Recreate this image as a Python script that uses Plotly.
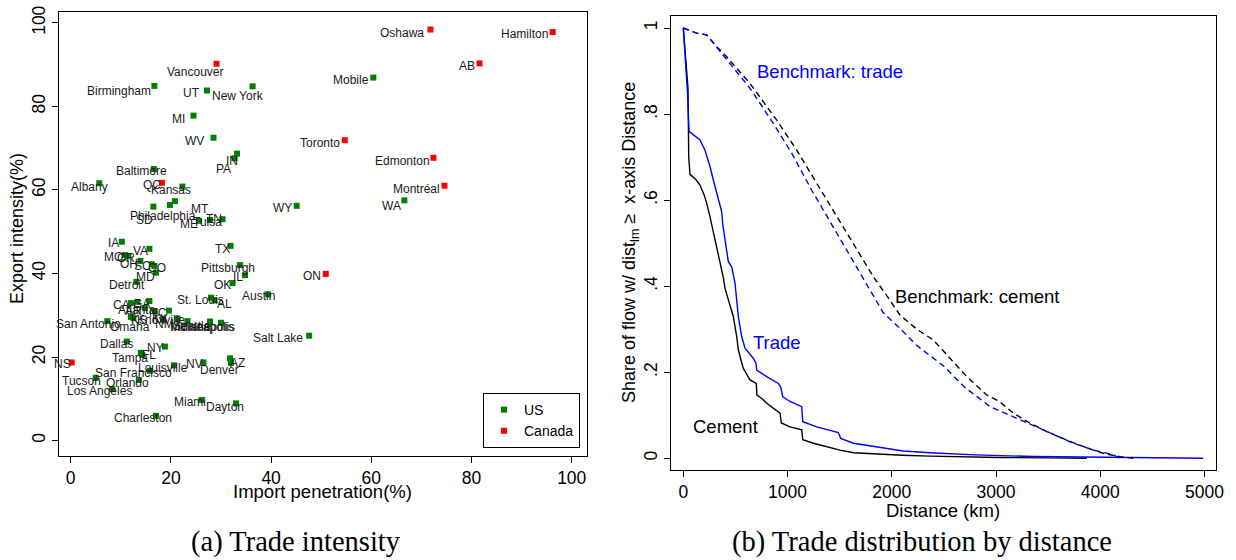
import plotly.graph_objects as go

# ---- Panel (a): trade intensity, US and Canadian markets ----
us_names = ["Birmingham", "UT", "New York", "Mobile", "MI", "WV", "IN", "PA", "Baltimore",
            "Albany", "Kansas", "WA", "WY", "MT", "Philadelphia", "SD", "ME", "Tulsa", "TN",
            "IA", "VA", "TX", "MO", "OR", "OH", "SC", "CO", "MD", "Pittsburgh", "IL", "Detroit",
            "OK", "Austin", "St. Louis", "AL", "GA", "AR", "CA", "Atlanta", "NC", "KY", "Omaha",
            "KS", "NM", "Knoxville", "Seattle", "San Antonio", "Indianapolis", "Minneapolis",
            "Salt Lake", "Dallas", "NY", "FL", "Tampa", "AZ", "Denver", "NV", "Louisville",
            "San Francisco", "Tucson", "Orlando", "Los Angeles", "Miami", "Dayton", "Charleston"]
us_import = [16.7, 27.2, 36.3, 60.4, 24.5, 28.5, 33.2, 32.7, 16.6,
             5.7, 22.3, 66.6, 45.1, 20.8, 19.8, 16.5, 25.6, 27.8, 30.3,
             10.2, 15.7, 31.9, 10.8, 11.5, 13.9, 16.2, 16.7, 17.0, 33.8, 34.8, 13.1,
             32.3, 39.4, 28.0, 28.7, 15.7, 13.3, 12.0, 14.8, 16.8, 19.6, 12.0,
             12.5, 18.4, 21.3, 23.3, 7.3, 27.8, 30.0,
             47.6, 11.2, 18.8, 14.0, 14.3, 31.8, 32.0, 26.5, 20.6,
             15.8, 5.0, 13.6, 8.3, 26.1, 33.0, 17.0]
us_export = [84.9, 83.8, 84.8, 86.9, 77.8, 72.5, 68.7, 67.6, 65.0,
             61.6, 60.8, 57.5, 56.2, 57.3, 56.4, 56.0, 52.6, 52.8, 53.0,
             47.6, 45.9, 46.6, 44.4, 44.2, 43.0, 42.2, 41.8, 40.2, 42.0, 39.6, 38.0,
             37.7, 35.0, 34.2, 33.6, 33.4, 33.2, 32.9, 31.7, 31.0, 31.1, 29.6,
             29.3, 29.0, 29.2, 28.6, 28.6, 28.5, 28.2,
             25.1, 23.7, 22.5, 21.0, 20.5, 19.7, 18.6, 18.7, 18.0,
             16.7, 15.0, 14.5, 12.3, 9.7, 8.9, 5.9]

ca_names = ["Oshawa", "Hamilton", "Vancouver", "AB", "Toronto", "Edmonton", "QC",
            "Montréal", "ON", "NS"]
ca_import = [71.8, 96.2, 29.1, 81.6, 54.7, 72.4, 18.2, 74.6, 50.9, 0.2]
ca_export = [98.4, 97.8, 90.2, 90.3, 71.9, 67.7, 61.7, 61.0, 39.9, 18.7]

x_ticks_a = [0, 20, 40, 60, 80, 100]
y_ticks_a = [0, 20, 40, 60, 80, 100]

# ---- Panel (b): cumulative share of flow beyond each distance ----
cement_km = [0, 20, 45, 52, 64, 120, 160, 200, 224, 256, 290, 320, 352, 384, 400, 448, 480,
             512, 528, 560, 576, 640, 700, 706, 760, 800, 896, 928, 940, 1024, 1136, 1146,
             1248, 1376, 1504, 1632, 1856, 2100, 2367, 2700, 3032, 3500, 3870]
cement_share = [1.0, 0.93, 0.86, 0.70, 0.66, 0.648, 0.635, 0.612, 0.593, 0.561, 0.525, 0.49,
                0.455, 0.42, 0.395, 0.356, 0.329, 0.283, 0.252, 0.222, 0.209, 0.182, 0.174,
                0.147, 0.138, 0.128, 0.112, 0.105, 0.082, 0.073, 0.066, 0.043, 0.035, 0.027,
                0.019, 0.013, 0.010, 0.007, 0.005, 0.003, 0.002, 0.001, 0.0]

trade_km = [0, 20, 40, 55, 100, 160, 208, 256, 290, 320, 368, 380, 400, 416, 432, 464, 496,
            528, 560, 592, 672, 697, 704, 800, 912, 934, 954, 1024, 1136, 1146, 1280, 1487,
            1510, 1632, 1856, 2110, 2367, 2800, 3355, 4000, 4987]
trade_share = [1.0, 0.93, 0.85, 0.76, 0.752, 0.74, 0.716, 0.678, 0.645, 0.616, 0.573, 0.54,
               0.511, 0.484, 0.457, 0.445, 0.407, 0.329, 0.283, 0.256, 0.232, 0.221, 0.205,
               0.190, 0.174, 0.166, 0.143, 0.132, 0.120, 0.085, 0.073, 0.060, 0.046, 0.035,
               0.026, 0.017, 0.013, 0.008, 0.004, 0.002, 0.0]

bench_cement_km = [0, 60, 128, 224, 320, 416, 512, 640, 896, 1088, 1280, 1535, 1823, 1960,
                   2078, 2240, 2398, 2560, 2719, 2911, 3032, 3166, 3300, 3486, 3700, 3933,
                   4050, 4189, 4317]
bench_cement_share = [1.0, 0.995, 0.988, 0.984, 0.957, 0.933, 0.906, 0.871, 0.786, 0.716,
                      0.639, 0.538, 0.422, 0.375, 0.333, 0.300, 0.275, 0.232, 0.190, 0.147,
                      0.132, 0.105, 0.085, 0.062, 0.040, 0.019, 0.010, 0.004, 0.0]

bench_trade_km = [0, 60, 128, 224, 320, 416, 512, 640, 864, 1040, 1232, 1471, 1711, 1919,
                  2078, 2240, 2494, 2700, 2942, 3166, 3300, 3454, 3741, 3950, 4125, 4190]
bench_trade_share = [1.0, 0.995, 0.988, 0.984, 0.955, 0.928, 0.898, 0.860, 0.778, 0.709,
                     0.623, 0.523, 0.426, 0.338, 0.302, 0.262, 0.215, 0.165, 0.120, 0.097,
                     0.082, 0.066, 0.035, 0.018, 0.008, 0.0]

x_ticks_b = [0, 1000, 2000, 3000, 4000, 5000]
y_ticks_b = [0, 0.2, 0.4, 0.6, 0.8, 1.0]
y_tick_text_b = ["0", ".2", ".4", ".6", ".8", "1"]

# Marker-label offsets in pixels (dx right, dy down) from each point
label_offset = {
    "Vancouver": (-22, 8), "Birmingham": (-35, 5), "UT": (-15, 2), "New York": (-15, 10),
    "MI": (-15, 3), "WV": (-19, 3), "IN": (-5, 7), "PA": (-11, 11), "Baltimore": (-12, 2),
    "Albany": (-10, 4), "QC": (-10, 2), "Kansas": (-11, 3), "Oshawa": (-28, 3),
    "Hamilton": (-28, 2), "AB": (-13, 3), "Mobile": (-22, 2), "Toronto": (-25, 3),
    "Edmonton": (-31, 3), "Montréal": (-28, 3), "WA": (-13, 6), "SD": (-9, 13),
    "Philadelphia": (-7, 11), "MT": (25, 8), "ME": (-10, 3), "Tulsa": (-3, 2), "TN": (-9, 0),
    "WY": (-14, 2), "TX": (-8, 3), "Pittsburgh": (-12, 3), "IL": (-7, 2), "OK": (-10, 2),
    "Austin": (-10, 2), "St. Louis": (-11, 2), "AL": (10, 4), "Salt Lake": (-31, 2),
    "ON": (-14, 2), "MO": (-11, 2), "OR": (-2, 2), "OH": (-11, 3), "SC": (-9, 2),
    "CO": (3, 2), "MD": (-10, 4), "Detroit": (-9, 3), "IA": (-8, 1), "VA": (-9, 2),
    "CA": (-9, 2), "AR": (-4, 9), "GA": (-8, 3), "Atlanta": (-8, 2), "NC": (3, 2),
    "KY": (-9, 8), "Omaha": (-1, 10), "KS": (6, 2), "NM": (2, 5), "Knoxville": (-16, 1),
    "Seattle": (5, 5), "Indianapolis": (-7, 5), "Minneapolis": (-19, 4),
    "San Antonio": (-19, 3), "Dallas": (-10, 2), "NY": (-9, 1), "FL": (8, 2),
    "Tampa": (-12, 3), "NS": (-9, 2), "Louisville": (-11, 3), "NV": (-9, 2), "AZ": (7, 5),
    "Denver": (-12, 7), "San Francisco": (-16, 2), "Tucson": (-14, 3), "Orlando": (-11, 3),
    "Los Angeles": (-13, 2), "Miami": (-11, 2), "Dayton": (-11, 4), "Charleston": (-13, 2),
}

SANS = "Liberation Sans, Arial, sans-serif"
SERIF = "Liberation Serif, Times New Roman, serif"
W, H = 1236, 560

fig = go.Figure()

# Panel (a) markers
fig.add_trace(go.Scatter(x=us_import, y=us_export, mode="markers", name="US",
                         marker=dict(symbol="square", size=6, color="#008000"),
                         xaxis="x", yaxis="y"))
fig.add_trace(go.Scatter(x=ca_import, y=ca_export, mode="markers", name="Canada",
                         marker=dict(symbol="square", size=6, color="#ff0000"),
                         xaxis="x", yaxis="y"))

# Panel (b) curves
line_w = 1.4
fig.add_trace(go.Scatter(x=cement_km, y=cement_share, mode="lines", showlegend=False,
                         line=dict(color="black", width=line_w), xaxis="x2", yaxis="y2"))
fig.add_trace(go.Scatter(x=trade_km, y=trade_share, mode="lines", showlegend=False,
                         line=dict(color="#0000ff", width=line_w), xaxis="x2", yaxis="y2"))
fig.add_trace(go.Scatter(x=bench_cement_km, y=bench_cement_share, mode="lines", showlegend=False,
                         line=dict(color="black", width=line_w, dash="6px,4px"),
                         xaxis="x2", yaxis="y2"))
fig.add_trace(go.Scatter(x=bench_trade_km, y=bench_trade_share, mode="lines", showlegend=False,
                         line=dict(color="#0000ff", width=line_w, dash="6px,4px"),
                         xaxis="x2", yaxis="y2"))

annotations = []
for names, xs, ys in ((us_names, us_import, us_export), (ca_names, ca_import, ca_export)):
    for n, xv, yv in zip(names, xs, ys):
        dx, dy = label_offset.get(n, (-10, 2))
        annotations.append(dict(x=xv, y=yv, xref="x", yref="y", text=n, showarrow=False,
                                xshift=dx, yshift=-dy,
                                font=dict(family=SANS, size=12, color="#1a1a1a")))

# Curve labels in panel (b)
curve_labels = [("Benchmark: trade", 1403, 0.898, "#0000ff"),
                ("Benchmark: cement", 2822, 0.377, "black"),
                ("Trade", 899, 0.268, "#0000ff"),
                ("Cement", 405, 0.073, "black")]
for txt, xv, yv, col in curve_labels:
    annotations.append(dict(x=xv, y=yv, xref="x2", yref="y2", text=txt, showarrow=False,
                            font=dict(family=SANS, size=18.5, color=col)))

def paper(px, py):
    return px / W, 1 - py / H

# Axis titles and captions
for txt, (px, py), ang, fnt, size in [
    ("Export intensity(%)", (17, 229), -90, SANS, 18),
    ("Import penetration(%)", (322, 491), 0, SANS, 18.5),
    ("Share of flow w/ dist<sub>lm</sub> ≥  x-axis Distance", (630, 243), -90, SANS, 18),
    ("Distance (km)", (943, 510), 0, SANS, 18.5),
    ("(a) Trade intensity", (296, 542), 0, SERIF, 28.5),
    ("(b) Trade distribution by distance", (922, 542), 0, SERIF, 28.5),
]:
    xp, yp = paper(px, py)
    annotations.append(dict(x=xp, y=yp, xref="paper", yref="paper", text=txt, showarrow=False,
                            textangle=ang, xanchor="center", yanchor="middle",
                            font=dict(family=fnt, size=size, color="black")))

axis_common = dict(showline=True, linecolor="black", linewidth=1.3, mirror=True,
                   ticks="outside", ticklen=6, tickwidth=1.3, tickcolor="black",
                   showgrid=False, zeroline=False, automargin=False,
                   tickfont=dict(family=SANS, size=17.5, color="black"))

fig.update_layout(
    width=W, height=H, autosize=False,
    margin=dict(l=0, r=0, t=0, b=0, pad=0, autoexpand=False),
    paper_bgcolor="white", plot_bgcolor="white",
    xaxis=dict(domain=[59 / W, 587 / W], range=[-2.34, 103.05], tickvals=x_ticks_a,
               anchor="y", **axis_common),
    yaxis=dict(domain=[1 - 456 / H, 1 - 12 / H], range=[-3.7, 102.6], tickvals=y_ticks_a,
               tickangle=-90, anchor="x", **axis_common),
    xaxis2=dict(domain=[670.7 / W, 1216 / W], range=[-121, 5110], tickvals=x_ticks_b,
                anchor="y2", **axis_common),
    yaxis2=dict(domain=[1 - 470 / H, 1 - 15.7 / H], range=[-0.0272, 1.0286],
                tickvals=y_ticks_b, ticktext=y_tick_text_b, tickangle=-90, anchor="x2",
                **axis_common),
    legend=dict(x=580 / W, y=1 - 393 / H, xanchor="right", yanchor="top",
                bordercolor="black", borderwidth=1, bgcolor="white",
                font=dict(family=SANS, size=14, color="black"), itemwidth=30),
    annotations=annotations,
    showlegend=True,
)

fig.write_html("out.html")
